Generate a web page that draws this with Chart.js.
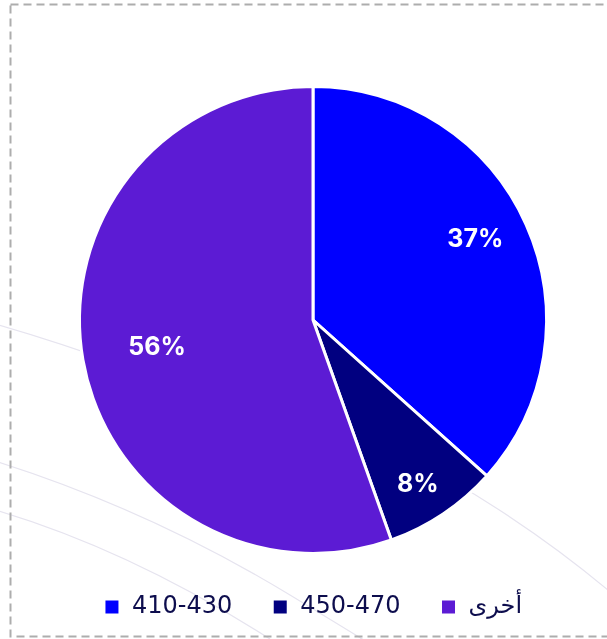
<!DOCTYPE html>
<html>
<head>
<meta charset="utf-8">
<script src="https://cdn.jsdelivr.net/npm/chart.js@4.4.1/dist/chart.umd.min.js"></script>
<style>
  html, body { margin: 0; padding: 0; background: #ffffff; }
  #wrap { position: relative; width: 607px; height: 639px; overflow: hidden; }
  #bg { position: absolute; left: 0; top: 0; }
  #c { position: absolute; left: 0; top: 0; }
</style>
</head>
<body>
<div id="wrap">
  <svg id="bg" width="607" height="639" viewBox="0 0 607 639">
    <g fill="none" stroke="#e6e4ef" stroke-width="1.2">
      <path d="M -5 324 Q 120 360 260 420"/>
      <path d="M -5 461 Q 150 510 290 595 T 360 639"/>
      <path d="M -5 510 Q 130 550 270 639"/>
      <path d="M 400 452 Q 520 515 615 596"/>
    </g>
    <rect x="10.5" y="4.5" width="640" height="632" fill="none" stroke="#adadad" stroke-width="2" stroke-dasharray="8 5"/>
  </svg>
  <canvas id="c" width="607" height="639"></canvas>
</div>
<script>
const categories = ['410-430', '450-470', 'أخرى'];
const shares = [37, 8, 56];
const percentLabels = ['37%', '8%', '56%'];
const sliceColors = ['#0000ff', '#010080', '#5c1bd4'];

const sliceLabels = {
  id: 'sliceLabels',
  afterDatasetsDraw(chart, args, opts) {
    const ctx = chart.ctx;
    const meta = chart.getDatasetMeta(0);
    ctx.save();
    ctx.fillStyle = '#ffffff';
    ctx.font = 'bold 25px Inter, "Open Sans", sans-serif';
    ctx.textAlign = 'center';
    ctx.textBaseline = 'middle';
    meta.data.forEach((arc, i) => {
      const p = arc.getProps(['x', 'y', 'startAngle', 'endAngle', 'outerRadius'], true);
      const mid = (p.startAngle + p.endAngle) / 2 + opts.turn[i];
      const r = p.outerRadius * opts.radial[i];
      ctx.fillText(percentLabels[i], p.x + Math.cos(mid) * r, p.y + Math.sin(mid) * r + 1);
    });
    ctx.restore();
  }
};

new Chart(document.getElementById('c'), {
  type: 'pie',
  data: {
    labels: categories,
    datasets: [{
      data: shares,
      backgroundColor: sliceColors,
      borderColor: '#ffffff',
      borderWidth: 3,
      hoverOffset: 0
    }]
  },
  plugins: [sliceLabels],
  options: {
    responsive: false,
    animation: false,
    layout: { padding: { top: 85, left: 29, right: 10, bottom: 10 } },
    plugins: {
      tooltip: { enabled: false },
      sliceLabels: { radial: [0.778, 0.83, 0.678], turn: [-0.045, 0.02, 0] },
      legend: {
        position: 'bottom',
        labels: {
          boxWidth: 16,
          boxHeight: 16,
          padding: 40,
          color: '#0d0d4d',
          font: { family: '"DejaVu Sans", sans-serif', size: 24 }
        }
      }
    }
  }
});
</script>
</body>
</html>
